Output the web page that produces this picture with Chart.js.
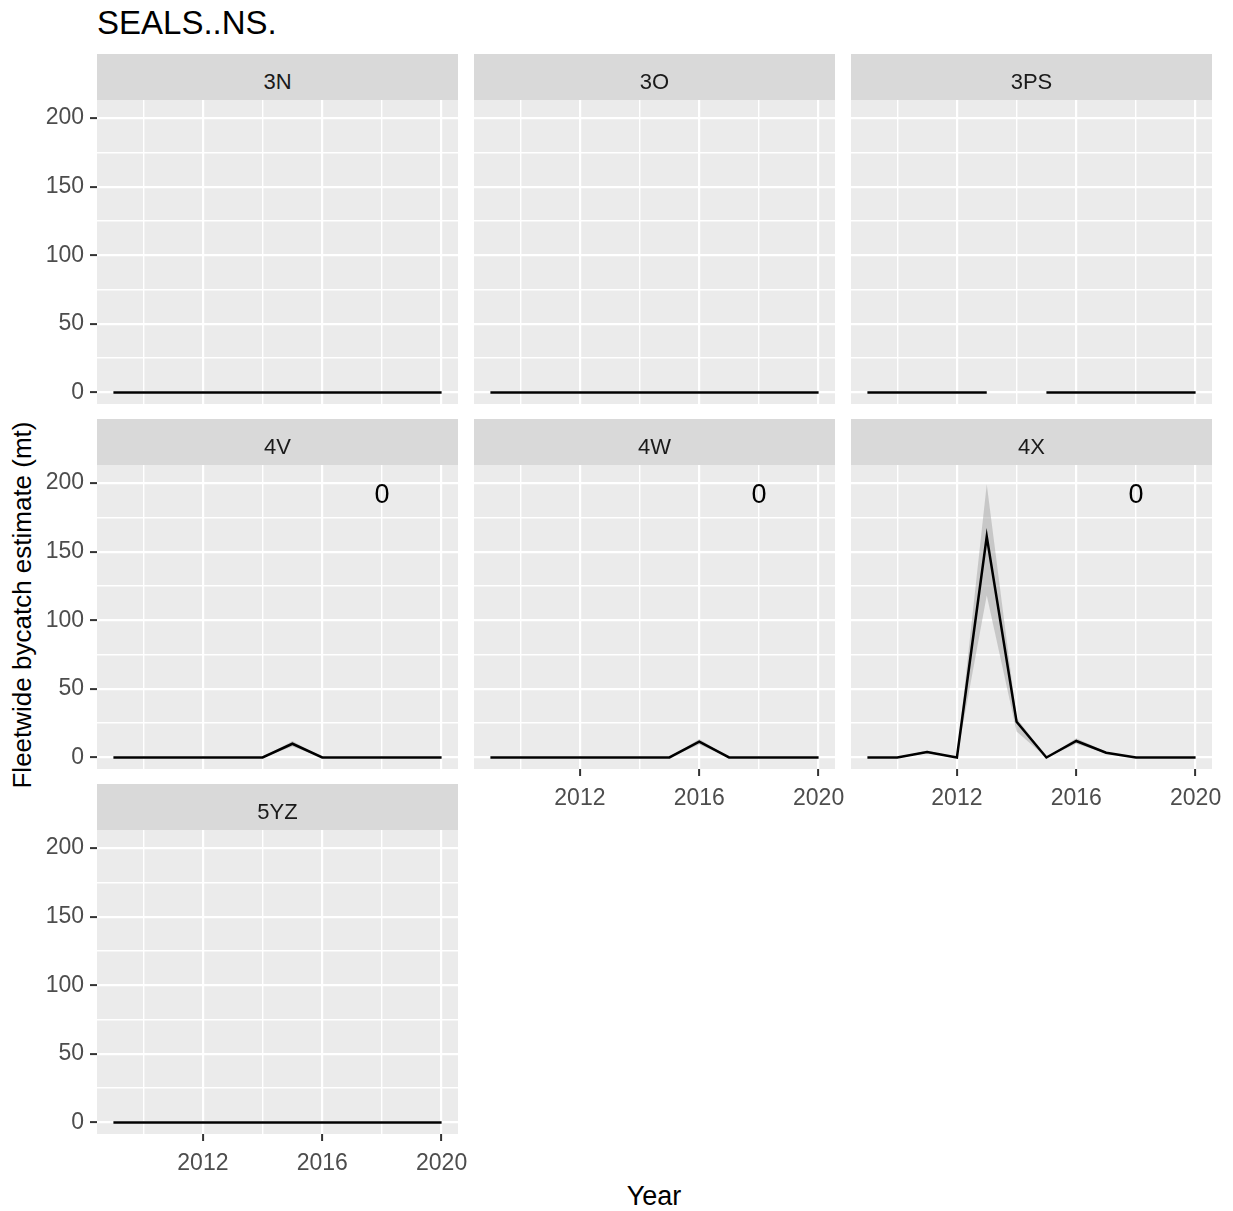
<!DOCTYPE html>
<html>
<head>
<meta charset="utf-8">
<script src="https://cdn.jsdelivr.net/npm/chart.js@4.4.1/dist/chart.umd.min.js"></script>
<style>
  body { margin: 0; background: #fff; font-family: "Liberation Sans", Arial, sans-serif; }
  #fig { position: relative; width: 1233px; height: 1211px; overflow: hidden; background: #fff; }
  .strip { position: absolute; background: #d9d9d9; color: #1a1a1a; font-size: 22px; text-align: center; line-height: 46px; height: 46px; }
  .strip span { position: relative; top: 5px; }
  .cv { position: absolute; }
  #title { position: absolute; left: 97px; top: 6px; font-size: 33px; line-height: 33px; color: #000; }
  #xtitle { position: absolute; left: 654px; top: 1196px; transform: translate(-50%, -50%); font-size: 27px; color: #000; white-space: nowrap; }
  #ytitle { position: absolute; left: 22px; top: 605px; transform: translate(-50%, -50%) rotate(-90deg); font-size: 26px; color: #000; white-space: nowrap; }
</style>
</head>
<body>
<div id="fig">
  <div id="title">SEALS..NS.</div>
  <div id="xtitle">Year</div>
  <div id="ytitle">Fleetwide bycatch estimate (mt)</div>
</div>
<script>
// data
const years = [2009, 2010, 2011, 2012, 2013, 2014, 2015, 2016, 2017, 2018, 2019, 2020];
const areas = ['3N', '3O', '3PS', '4V', '4W', '4X', '5YZ'];

const est3N  = [0, 0, 0, 0, 0, 0, 0, 0, 0, 0, 0, 0];
const est3O  = [0, 0, 0, 0, 0, 0, 0, 0, 0, 0, 0, 0];
const est3PS = [0, 0, 0, 0, 0, null, 0, 0, 0, 0, 0, 0];
const est4V  = [0, 0, 0, 0, 0, 0, 10, 0, 0, 0, 0, 0];
const est4W  = [0, 0, 0, 0, 0, 0, 0, 11.5, 0, 0, 0, 0];
const est4X  = [0, 0, 4, 0, 161, 26, 0, 12, 3.5, 0, 0, 0];
const est5YZ = [0, 0, 0, 0, 0, 0, 0, 0, 0, 0, 0, 0];

// confidence band
const lo4V = [0, 0, 0, 0, 0, 0, 8, 0, 0, 0, 0, 0];
const hi4V = [0, 0, 0, 0, 0, 0, 12, 0, 0, 0, 0, 0];
const lo4W = [0, 0, 0, 0, 0, 0, 0, 9.5, 0, 0, 0, 0];
const hi4W = [0, 0, 0, 0, 0, 0, 0, 13.5, 0, 0, 0, 0];
const lo4X = [0, 0, 3, 0, 118, 19, 0, 10, 3, 0, 0, 0];
const hi4X = [0, 0, 5, 0, 199, 29, 0, 14, 4.2, 0, 0, 0];

// "0" labels
const labelAreas = ['4V', '4W', '4X'];
const labelYear = 2018;
const labelValue = 192;
const labelText = '0';

const xTicks = [2010, 2012, 2014, 2016, 2018, 2020];
const xMajor = [2012, 2016, 2020];
const yTicks = [0, 25, 50, 75, 100, 125, 150, 175, 200];
const yMajor = [0, 50, 100, 150, 200];

const series = { '3N': est3N, '3O': est3O, '3PS': est3PS, '4V': est4V, '4W': est4W, '4X': est4X, '5YZ': est5YZ };
const bands = { '4V': [lo4V, hi4V], '4W': [lo4W, hi4W], '4X': [lo4X, hi4X] };

// facet layout
const colLeft = [97, 474, 851];
const rowTop = [100, 465, 830];
const plotW = 361, plotH = 304, stripH = 46;
const padL = 97, padT = 20, padR = 30, padB = 50;
const fontFam = '"Liberation Sans", Arial, sans-serif';

const fig = document.getElementById('fig');

const panelBg = {
  id: 'panelBg',
  beforeDraw(chart) {
    const a = chart.chartArea, c = chart.ctx;
    c.save();
    c.fillStyle = '#ebebeb';
    c.fillRect(a.left, a.top, a.right - a.left, a.bottom - a.top);
    c.restore();
  }
};

const zeroLabel = {
  id: 'zeroLabel',
  afterDatasetsDraw(chart, args, opts) {
    if (!opts.show) return;
    const c = chart.ctx;
    c.save();
    c.fillStyle = '#000';
    c.font = '27px ' + fontFam;
    c.textAlign = 'center';
    c.textBaseline = 'alphabetic';
    c.fillText(labelText, chart.scales.x.getPixelForValue(labelYear), chart.scales.y.getPixelForValue(labelValue) + 9.5);
    c.restore();
  }
};

const isMajor = (list, c) => !!(c.tick && list.includes(c.tick.value));

areas.forEach((area, i) => {
  const col = i % 3, row = Math.floor(i / 3);
  const showY = col === 0;
  const showX = area === '4W' || area === '4X' || area === '5YZ';

  const strip = document.createElement('div');
  strip.className = 'strip';
  strip.style.left = colLeft[col] + 'px';
  strip.style.top = (rowTop[row] - stripH) + 'px';
  strip.style.width = plotW + 'px';
  strip.innerHTML = '<span>' + area + '</span>';
  fig.appendChild(strip);

  const cv = document.createElement('canvas');
  cv.className = 'cv';
  cv.width = padL + plotW + padR;
  cv.height = padT + plotH + padB;
  cv.style.left = (colLeft[col] - padL) + 'px';
  cv.style.top = (rowTop[row] - padT) + 'px';
  fig.appendChild(cv);

  const vals = series[area];
  const datasets = [{
    data: years.map((yr, k) => ({ x: yr, y: vals[k] })),
    borderColor: '#000',
    borderWidth: 2.5,
    pointRadius: 0,
    tension: 0,
    fill: false,
    spanGaps: false
  }];
  if (bands[area]) {
    const [lo, hi] = bands[area];
    datasets.push({
      data: years.map((yr, k) => ({ x: yr, y: hi[k] })),
      borderWidth: 0, borderColor: 'rgba(0,0,0,0)', pointRadius: 0,
      backgroundColor: 'rgba(150,150,150,0.42)', fill: '+1'
    });
    datasets.push({
      data: years.map((yr, k) => ({ x: yr, y: lo[k] })),
      borderWidth: 0, borderColor: 'rgba(0,0,0,0)', pointRadius: 0, fill: false
    });
  }

  new Chart(cv, {
    type: 'line',
    data: { datasets: datasets },
    options: {
      responsive: false,
      animation: false,
      devicePixelRatio: 1,
      layout: { padding: { top: padT, right: padR, left: 0, bottom: 0 } },
      plugins: { legend: { display: false }, tooltip: { enabled: false }, zeroLabel: { show: labelAreas.includes(area) } },
      scales: {
        x: {
          type: 'linear', min: 2008.45, max: 2020.55,
          afterBuildTicks: s => { s.ticks = xTicks.map(v => ({ value: v })); },
          afterFit: s => { s.height = padB; },
          border: { display: false },
          grid: {
            color: '#fff',
            lineWidth: c => isMajor(xMajor, c) ? 2.2 : 1.4,
            drawTicks: showX,
            tickLength: 7,
            tickWidth: 2,
            tickColor: c => isMajor(xMajor, c) ? '#333' : 'rgba(0,0,0,0)'
          },
          ticks: {
            display: showX, autoSkip: false, maxRotation: 0, padding: 9,
            color: '#4d4d4d', font: { size: 23, family: fontFam },
            callback: v => xMajor.includes(v) ? String(v) : ''
          }
        },
        y: {
          type: 'linear', min: -8.4, max: 213.1,
          afterBuildTicks: s => { s.ticks = yTicks.map(v => ({ value: v })); },
          afterFit: s => { s.width = padL; },
          border: { display: false },
          grid: {
            color: '#fff',
            lineWidth: c => isMajor(yMajor, c) ? 2.2 : 1.4,
            drawTicks: showY,
            tickLength: 7,
            tickWidth: 2,
            tickColor: c => isMajor(yMajor, c) ? '#333' : 'rgba(0,0,0,0)'
          },
          ticks: {
            display: showY, autoSkip: false, padding: 6,
            color: '#4d4d4d', font: { size: 23, family: fontFam },
            callback: v => yMajor.includes(v) ? String(v) : ''
          }
        }
      }
    },
    plugins: [panelBg, zeroLabel]
  });
});
</script>
</body>
</html>
